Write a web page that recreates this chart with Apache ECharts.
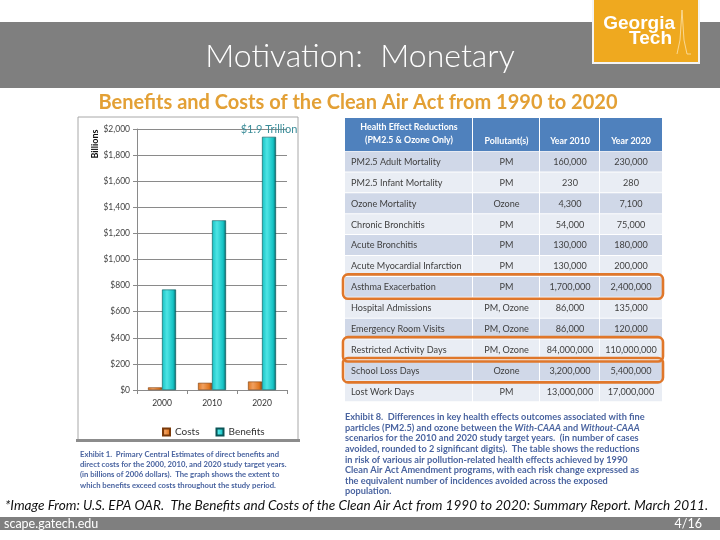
<!DOCTYPE html>
<html>
<head>
<meta charset="utf-8">
<script src="https://cdn.jsdelivr.net/npm/echarts@6/dist/echarts.min.js"></script>
<style>html,body{margin:0;padding:0;background:#fff}#c{width:720px;height:540px}</style>
</head>
<body>
<div id="c"></div>
<script>
// ---- chart data ----
const years = ['2000', '2010', '2020'];
const costs = [20, 55, 65];
const benefits = [770, 1300, 1940];
const seriesNames = ['Costs', 'Benefits'];
const benefitNote = '$1.9 Trillion';

// ---- table data ----
const tableHeader = ['Health Effect Reductions\n(PM2.5 & Ozone Only)', 'Pollutant(s)', 'Year 2010', 'Year 2020'];
const effects = ['PM2.5 Adult Mortality', 'PM2.5 Infant Mortality', 'Ozone Mortality', 'Chronic Bronchitis',
  'Acute Bronchitis', 'Acute Myocardial Infarction', 'Asthma Exacerbation', 'Hospital Admissions',
  'Emergency Room Visits', 'Restricted Activity Days', 'School Loss Days', 'Lost Work Days'];
const pollutants = ['PM', 'PM', 'Ozone', 'PM', 'PM', 'PM', 'PM', 'PM, Ozone', 'PM, Ozone', 'PM, Ozone', 'Ozone', 'PM'];
const year2010 = ['160,000', '230', '4,300', '54,000', '130,000', '130,000', '1,700,000', '86,000', '86,000', '84,000,000', '3,200,000', '13,000,000'];
const year2020 = ['230,000', '280', '7,100', '75,000', '180,000', '200,000', '2,400,000', '135,000', '120,000', '110,000,000', '5,400,000', '17,000,000'];
const highlightedRows = [6, 9, 10];

// ---- texts ----
const slideTitle = 'Motivation:  Monetary';
const subTitle = 'Benefits and Costs of the Clean Air Act from 1990 to 2020';
const exhibit1 = 'Exhibit 1.  Primary Central Estimates of direct benefits and\ndirect costs for the 2000, 2010, and 2020 study target years.\n(in billions of 2006 dollars).  The graph shows the extent to\nwhich benefits exceed costs throughout the study period.';
const footnote = '*Image From: U.S. EPA OAR.  The Benefits and Costs of the Clean Air Act from 1990 to 2020: Summary Report. March 2011.';
const footerLeft = 'scape.gatech.edu';
const footerRight = '4/16';

const chart = echarts.init(document.getElementById('c'), null, {renderer: 'canvas'});

const F = 'Lato, "Noto Sans", sans-serif';
const capColor = '#4a64a0';
const g = [];

// header band
g.push({type: 'rect', shape: {x: 0, y: 22, width: 720, height: 66}, style: {fill: '#7f7f7f'}});
g.push({type: 'text', style: {text: slideTitle, x: 360, y: 57, align: 'center', verticalAlign: 'middle', fill: '#fff', font: '300 32px ' + F}});
// logo
g.push({type: 'rect', shape: {x: 592, y: -2, width: 108, height: 66}, style: {fill: '#f4f4f4'}});
g.push({type: 'rect', shape: {x: 594, y: 0, width: 104, height: 62}, style: {fill: '#efa91f'}});
g.push({type: 'text', style: {text: 'Georgia', x: 675, y: 24, align: 'right', verticalAlign: 'middle', fill: '#fff', font: 'bold 19px "Liberation Sans", Arial'}});
g.push({type: 'text', style: {text: 'Tech', x: 672, y: 39, align: 'right', verticalAlign: 'middle', fill: '#fff', font: 'bold 19px "Liberation Sans", Arial'}});
g.push({type: 'polyline', shape: {points: [[677, 54], [680, 40], [682, 10], [684, 40], [687, 54], [691, 54]]}, style: {stroke: '#fbe3b0', lineWidth: 0.8, fill: null}});
// subtitle
g.push({type: 'text', style: {text: subTitle, x: 358, y: 103, align: 'center', verticalAlign: 'middle', fill: '#e3a035', font: 'bold 20px ' + F}});

// chart frame
g.push({type: 'rect', z: -1, shape: {x: 78, y: 117, width: 220, height: 323}, style: {fill: '#fff', stroke: '#a8a8a8', lineWidth: 1}});
g.push({type: 'rect', z: -1, shape: {x: 76, y: 439, width: 224, height: 3}, style: {fill: '#8c8c8c'}});
g.push({type: 'text', style: {text: 'Billions', x: 95, y: 144, align: 'center', verticalAlign: 'middle', fill: '#111', font: 'bold 9px ' + F}, rotation: Math.PI / 2, x: 0, y: 0, originX: 95, originY: 144});

// exhibit 1 caption
g.push({type: 'text', style: {text: exhibit1, x: 80, y: 449, fill: capColor, font: 'bold 7.7px ' + F, lineHeight: 10.4}});

// table
const colX = [345, 473, 540, 600, 662];
const headTop = 118, headH = 33, rowTop = 151.5, rowH = 20.9;
for (let c = 0; c < 4; c++) {
  g.push({type: 'rect', shape: {x: colX[c], y: headTop, width: colX[c + 1] - colX[c] - (c < 3 ? 1 : 0), height: headH}, style: {fill: '#4f81bd'}});
  g.push({type: 'text', style: {text: tableHeader[c], x: (colX[c] + colX[c + 1]) / 2, y: c === 0 ? 134 : 141, align: 'center', verticalAlign: 'middle', fill: '#fff', font: 'bold 8.8px ' + F, lineHeight: 13}});
}
const cols = [effects, pollutants, year2010, year2020];
for (let r = 0; r < effects.length; r++) {
  const y = rowTop + r * rowH;
  const fill = r % 2 === 0 ? '#d0d8e8' : '#e9edf4';
  for (let c = 0; c < 4; c++) {
    g.push({type: 'rect', shape: {x: colX[c], y: y, width: colX[c + 1] - colX[c] - (c < 3 ? 1 : 0), height: rowH - 1}, style: {fill: fill}});
    g.push({type: 'text', style: {text: cols[c][r], x: c === 0 ? 351 : (colX[c] + colX[c + 1]) / 2, y: y + rowH / 2, align: c === 0 ? 'left' : 'center', verticalAlign: 'middle', fill: '#3f3f3f', font: '9.1px ' + F}});
  }
}
highlightedRows.forEach(r => {
  const y = rowTop + r * rowH;
  g.push({type: 'rect', z: 10, shape: {x: 343, y: y - 2.5, width: 320, height: rowH + 3.5, r: 5}, style: {fill: null, stroke: '#e0772a', lineWidth: 2.6}});
});

// exhibit 8 caption (rich text for italics)
g.push({type: 'text', style: {
  text: 'Exhibit 8.  Differences in key health effects outcomes associated with fine\nparticles (PM2.5) and ozone between the {i|With-CAAA} and {i|Without-CAAA}\nscenarios for the 2010 and 2020 study target years.  (in number of cases\navoided, rounded to 2 significant digits).  The table shows the reductions\nin risk of various air pollution-related health effects achieved by 1990\nClean Air Act Amendment programs, with each risk change expressed as\nthe equivalent number of incidences avoided across the exposed\npopulation.',
  x: 345, y: 412, fill: capColor, font: 'bold 9.2px ' + F, lineHeight: 10.6,
  rich: {i: {fontStyle: 'italic', fontWeight: 'bold', fontSize: 9.2, fontFamily: 'Lato', fill: capColor}}
}});

// footnote
g.push({type: 'text', style: {text: footnote, x: 5, y: 506, verticalAlign: 'middle', fill: '#111', font: 'italic 13.6px ' + F}});
// footer band
g.push({type: 'rect', shape: {x: 0, y: 517, width: 720, height: 13}, style: {fill: '#7f7f7f'}});
g.push({type: 'text', style: {text: footerLeft, x: 4, y: 523.5, verticalAlign: 'middle', fill: '#fff', font: '12.5px ' + F}});
g.push({type: 'text', style: {text: footerRight, x: 702, y: 523.5, align: 'right', verticalAlign: 'middle', fill: '#fff', font: '12.5px ' + F}});

function grad(light, mid, dark) {
  return new echarts.graphic.LinearGradient(0, 0, 1, 0, [
    {offset: 0, color: mid}, {offset: 0.35, color: light}, {offset: 0.8, color: mid}, {offset: 1, color: dark}
  ]);
}

const option = {
  animation: false,
  backgroundColor: '#fff',
  grid: {left: 137, right: 433, top: 129, bottom: 150},
  legend: {
    data: seriesNames, top: 422, left: 157, itemWidth: 7, itemHeight: 7, itemGap: 16,
    icon: 'rect', textStyle: {fontSize: 10, color: '#333', fontFamily: F}
  },
  xAxis: {
    type: 'category', data: years,
    axisLine: {lineStyle: {color: '#8a8a8a'}},
    axisTick: {show: true, length: 4, lineStyle: {color: '#8a8a8a'}},
    axisLabel: {fontSize: 8.5, color: '#333', margin: 9, fontFamily: F}
  },
  yAxis: {
    type: 'value', min: 0, max: 2000, interval: 200,
    axisLine: {show: true, lineStyle: {color: '#8a8a8a'}},
    axisTick: {show: true, length: 4, lineStyle: {color: '#8a8a8a'}},
    splitLine: {lineStyle: {color: '#8a8a8a', width: 1}},
    axisLabel: {fontSize: 8.5, color: '#444', margin: 7, fontFamily: F,
      formatter: v => '$' + v.toLocaleString('en-US')}
  },
  series: [
    {name: seriesNames[0], type: 'bar', data: costs, barWidth: 14, barGap: '0%', color: '#e0761f',
      itemStyle: {color: grad('#f0a060', '#e0761f', '#8a420c'), borderColor: '#7a3a0a', borderWidth: 0.6}},
    {name: seriesNames[1], type: 'bar', data: benefits, barWidth: 14, barGap: '0%', color: '#14c2c4',
      itemStyle: {color: grad('#4fe4e4', '#14c2c4', '#056466'), borderColor: '#0b5456', borderWidth: 0.6},
      label: {show: true, position: 'top', distance: 2, color: '#3a8c98', fontSize: 11, fontFamily: F,
        formatter: p => p.dataIndex === benefits.length - 1 ? benefitNote : ''}}
  ],
  graphic: {elements: g}
};
chart.setOption(option);
</script>
</body>
</html>
